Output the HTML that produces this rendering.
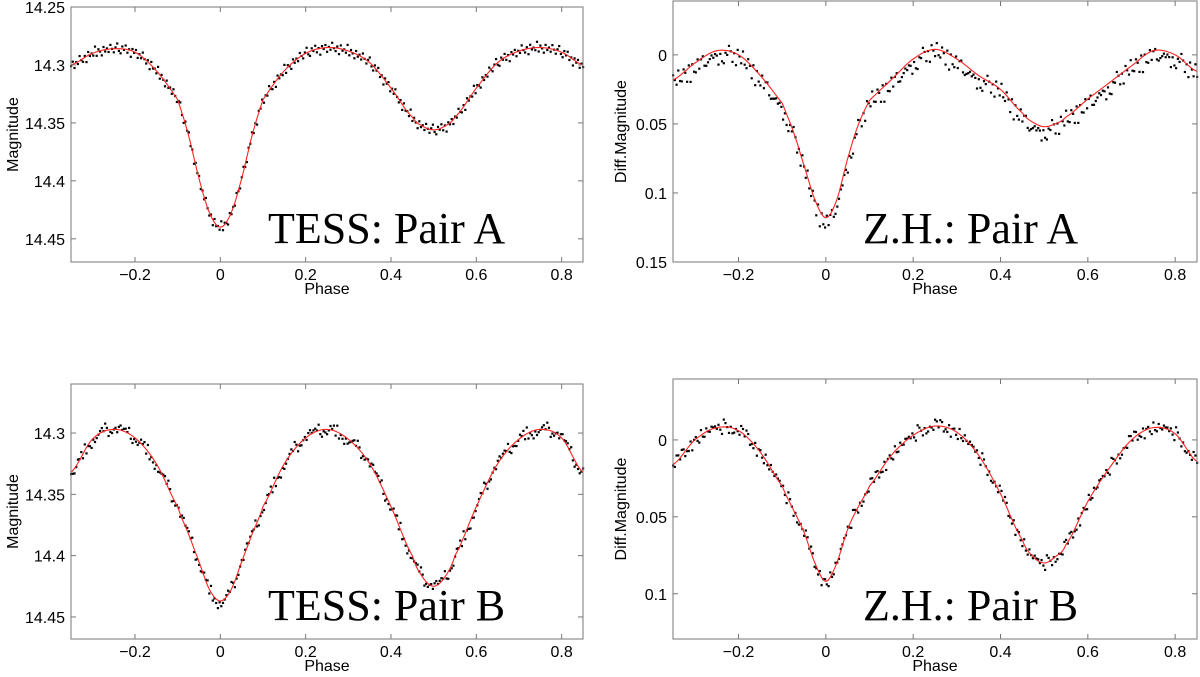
<!DOCTYPE html>
<html><head><meta charset="utf-8"><style>
html,body{margin:0;padding:0;background:#fff;}
svg{display:block;font-family:"Liberation Sans",sans-serif;}
</style></head><body>
<svg id="fig" width="1200" height="677" viewBox="0 0 1200 677"></svg>
<script>
// shared phase grid for the model curves
const modelPhases = [-0.35,-0.3,-0.25,-0.2,-0.15,-0.1,-0.075,-0.05,-0.025,0,0.025,0.05,0.075,0.1,0.15,0.2,0.25,0.3,0.35,0.4,0.45,0.475,0.5,0.525,0.55,0.6,0.65,0.7,0.75,0.8,0.85];
const modelTessA = [14.300,14.290,14.286,14.289,14.305,14.330,14.360,14.398,14.428,14.440,14.428,14.398,14.360,14.330,14.305,14.290,14.285,14.288,14.298,14.320,14.345,14.353,14.356,14.353,14.345,14.320,14.298,14.288,14.285,14.289,14.300];
const modelZhA = [0.018,0.006,-0.003,0.000,0.015,0.035,0.055,0.080,0.105,0.118,0.105,0.075,0.050,0.033,0.018,0.003,-0.004,0.003,0.015,0.025,0.042,0.049,0.052,0.050,0.045,0.032,0.020,0.008,-0.003,0.000,0.012];
const modelTessB = [14.332,14.305,14.297,14.304,14.325,14.360,14.382,14.405,14.428,14.437,14.428,14.405,14.382,14.360,14.325,14.304,14.297,14.305,14.325,14.360,14.400,14.418,14.425,14.418,14.400,14.360,14.325,14.305,14.297,14.304,14.332];
const modelZhB = [0.016,0.000,-0.008,-0.006,0.008,0.030,0.045,0.060,0.080,0.092,0.080,0.058,0.043,0.030,0.010,-0.003,-0.009,-0.005,0.010,0.035,0.065,0.076,0.080,0.076,0.068,0.040,0.018,0.000,-0.008,-0.004,0.014];
// observational scatter (residuals, in units of the panel noise)
const residuals = [0.3,-0.8,1.2,-0.2,0.6,-1.4,0.1,0.9,-0.5,1.6,-1.0,0.4,-0.1,0.7,-1.7,1.1,-0.6,0.2,1.4,-0.9,0.5,-0.3,0.8,-1.2,0.0,1.0,-0.4,-1.5,0.6,1.3,-0.7,0.25,-1.1,0.9,-0.2,1.8,-0.6];
const xTicks = [-0.2,0,0.2,0.4,0.6,0.8];
const xTickLabels = ["\u22120.2","0","0.2","0.4","0.6","0.8"];
const yTicksTess = [14.25,14.3,14.35,14.4,14.45];
const yTickLabelsTess = ["14.25","14.3","14.35","14.4","14.45"];
const yTicksZhA = [0,0.05,0.1,0.15];
const yTickLabelsZhA = ["0","0.05","0.1","0.15"];
const yTicksZhB = [0,0.05,0.1];
const yTickLabelsZhB = ["0","0.05","0.1"];

const NS="http://www.w3.org/2000/svg";
const svg=document.getElementById('fig');
function mk(tag,attrs,parent){const e=document.createElementNS(NS,tag);for(const k in attrs)e.setAttribute(k,attrs[k]);(parent||svg).appendChild(e);return e;}
function interp(p,xs,ys){
  if(p<=xs[0])return ys[0];
  for(let i=0;i<xs.length-1;i++){
    if(p<=xs[i+1]){
      const t=(p-xs[i])/(xs[i+1]-xs[i]);
      const y0=ys[Math.max(i-1,0)],y1=ys[i],y2=ys[i+1],y3=ys[Math.min(i+2,ys.length-1)];
      const t2=t*t,t3=t2*t;
      return 0.5*((2*y1)+(-y0+y2)*t+(2*y0-5*y1+4*y2-y3)*t2+(-y0+3*y1-3*y2+y3)*t3);
    }
  }
  return ys[ys.length-1];
}
function panel(cfg){
  const g=mk('g',{});
  
  
  const X=p=>cfg.x0+(p-(-0.35))/1.2*(cfg.x1-cfg.x0);
  const Y=v=>cfg.y0+(v-cfg.vmin)/(cfg.vmax-cfg.vmin)*(cfg.y1-cfg.y0);
  const dg=mk('g',{},g);
  
  
  let k=cfg.shift;
  for(let p=-0.35;p<=0.85001;p+=0.004){
    const v=interp(p,modelPhases,cfg.model)+residuals[k%residuals.length]*cfg.noise+cfg.bias;
    k+=cfg.step;
    const cy=Y(v);
    if(cy<cfg.y0||cy>cfg.y1)continue;
    const d=mk('rect',{x:(X(p)-1).toFixed(1),y:(cy-1).toFixed(1),width:2.2,height:2.2,fill:'#000'},dg);
    
    
  }
  let dstr='';
  for(let p=-0.35;p<=0.85001;p+=0.005){dstr+=(dstr?'L':'M')+X(p).toFixed(1)+','+Y(interp(p,modelPhases,cfg.model)).toFixed(1);}
  const ml=mk('path',{d:dstr,fill:'none',stroke:'#f22',"stroke-width":1.1},g);
  
  
  const fr=mk('rect',{x:cfg.x0,y:cfg.y0,width:cfg.x1-cfg.x0,height:cfg.y1-cfg.y0,fill:'none',stroke:'#777',"stroke-width":1},g);
  
  
  xTicks.forEach((t,i)=>{
    const x=X(t);
    mk('line',{x1:x,x2:x,y1:cfg.y1,y2:cfg.y1-5,stroke:'#777'},g);
    mk('line',{x1:x,x2:x,y1:cfg.y0,y2:cfg.y0+5,stroke:'#777'},g);
    const tl=mk('text',{x:x,y:cfg.y1+18,"text-anchor":"middle","font-size":16},g);
    tl.textContent=xTickLabels[i];
    
    
  });
  cfg.yt.forEach((t,i)=>{
    const y=Y(t);
    mk('line',{x1:cfg.x0,x2:cfg.x0+5,y1:y,y2:y,stroke:'#777'},g);
    mk('line',{x1:cfg.x1,x2:cfg.x1-5,y1:y,y2:y,stroke:'#777'},g);
    const tl=mk('text',{x:cfg.x0-6,y:y+6,"text-anchor":"end","font-size":16},g);
    tl.textContent=cfg.ytl[i];
    
    
  });
  const xt=mk('text',{x:(cfg.x0+cfg.x1)/2,y:cfg.y1+32,"text-anchor":"middle","font-size":16},g);
  xt.textContent='Phase';
  
  
  const yx=cfg.yTitleX, yy=(cfg.y0+cfg.y1)/2;
  const yt=mk('text',{x:yx,y:yy,"text-anchor":"middle","font-size":16,transform:`rotate(-90 ${yx} ${yy})`},g);
  yt.textContent=cfg.ytitle;
  
  
  const tt=mk('text',{x:cfg.titleX,y:cfg.titleY,"font-family":'"Liberation Serif",serif',"font-size":44},g);
  tt.textContent=cfg.title;
  
  
}
panel({name:'tess-pair-a-panel',x0:71,x1:583,y0:7,y1:262,vmin:14.25,vmax:14.47,model:modelTessA,noise:0.003,bias:0,shift:0,step:1,yt:yTicksTess,ytl:yTickLabelsTess,ytitle:'Magnitude',yTitleX:18,title:'TESS: Pair A',titleX:268,titleY:243});
panel({name:'zh-pair-a-panel',x0:673,x1:1197,y0:1,y1:262,vmin:-0.039,vmax:0.15,model:modelZhA,noise:0.0045,bias:0.003,shift:5,step:3,yt:yTicksZhA,ytl:yTickLabelsZhA,ytitle:'Diff.Magnitude',yTitleX:626,title:'Z.H.: Pair A',titleX:863,titleY:243});
panel({name:'tess-pair-b-panel',x0:71,x1:583,y0:384,y1:639,vmin:14.26,vmax:14.468,model:modelTessB,noise:0.0035,bias:0,shift:11,step:2,yt:yTicksTess.slice(1),ytl:yTickLabelsTess.slice(1),ytitle:'Magnitude',yTitleX:18,title:'TESS: Pair B',titleX:268,titleY:620});
panel({name:'zh-pair-b-panel',x0:673,x1:1197,y0:379,y1:639,vmin:-0.0396,vmax:0.1294,model:modelZhB,noise:0.0028,bias:0,shift:17,step:5,yt:yTicksZhB,ytl:yTickLabelsZhB,ytitle:'Diff.Magnitude',yTitleX:626,title:'Z.H.: Pair B',titleX:863,titleY:620});
</script>
</body></html>
